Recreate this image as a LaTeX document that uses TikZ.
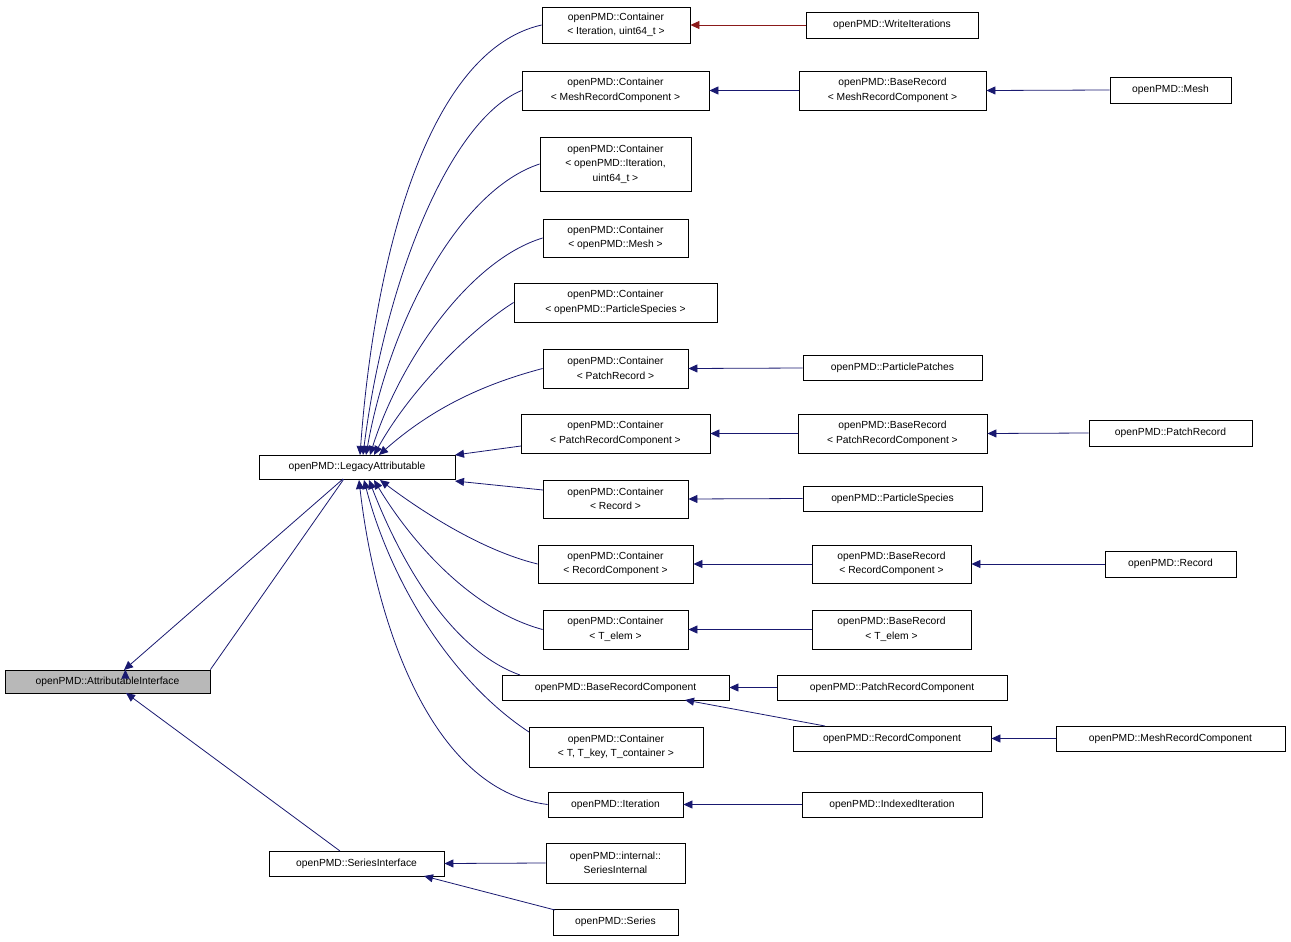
\documentclass[tikz,border=0pt]{standalone}
\usepackage{fontspec}
\setmainfont{Liberation Sans}
\usetikzlibrary{arrows.meta}
\begin{document}
\begin{tikzpicture}[x=1pt,y=-1pt,
  nd/.style={draw=black,fill=white,line width=0.8pt,inner sep=0pt,align=center,font=\fontsize{10.3}{14.5}\selectfont},
  e/.style={draw={rgb,255:red,25;green,25;blue,112},line width=0.8pt,-{Triangle[length=9pt,width=8pt]}},
  er/.style={e,draw={rgb,255:red,139;green,26;blue,26}}]
\useasboundingbox (0,0) rectangle (1291,942);
\newcommand\bx[6]{\node[nd,minimum width=#4,minimum height=#5] (#1) at (#2,#3) {#6};}
\node[nd,fill=black!28,minimum width=205,minimum height=23] (AI) at (107.5,681.5) {openPMD::AttributableInterface};
\bx{LA}{357}{467}{196}{24}{openPMD::LegacyAttributable}
\bx{SI}{356.5}{863.5}{175}{25}{openPMD::SeriesInterface}
\bx{CIt}{616}{25}{148}{36}{openPMD::Container\\\textless{} Iteration, uint64\_t \textgreater}
\bx{WI}{892}{25}{172}{26}{openPMD::WriteIterations}
\bx{CMRC}{615.5}{90.5}{187}{39}{openPMD::Container\\\textless{} MeshRecordComponent \textgreater}
\bx{BMRC}{892.5}{90.5}{187}{39}{openPMD::BaseRecord\\\textless{} MeshRecordComponent \textgreater}
\bx{Mesh}{1170.5}{90}{121}{26}{openPMD::Mesh}
\bx{COI}{615.5}{164}{151}{54}{openPMD::Container\\\textless{} openPMD::Iteration,\\uint64\_t \textgreater}
\bx{CM}{615.5}{238}{145}{38}{openPMD::Container\\\textless{} openPMD::Mesh \textgreater}
\bx{CPS}{615.5}{302.5}{203}{39}{openPMD::Container\\\textless{} openPMD::ParticleSpecies \textgreater}
\bx{CPR}{615.5}{368.5}{145}{39}{openPMD::Container\\\textless{} PatchRecord \textgreater}
\bx{PP}{892.5}{368}{179}{25}{openPMD::ParticlePatches}
\bx{CPRC}{615.5}{433.5}{189}{39}{openPMD::Container\\\textless{} PatchRecordComponent \textgreater}
\bx{BPRC}{892.5}{433.5}{189}{39}{openPMD::BaseRecord\\\textless{} PatchRecordComponent \textgreater}
\bx{PR}{1170.5}{433}{163}{26}{openPMD::PatchRecord}
\bx{CR}{615.5}{499}{145}{38}{openPMD::Container\\\textless{} Record \textgreater}
\bx{PSp}{892.5}{498.5}{179}{25}{openPMD::ParticleSpecies}
\bx{CRC}{615.5}{564}{155}{38}{openPMD::Container\\\textless{} RecordComponent \textgreater}
\bx{BRC}{891.5}{564}{159}{38}{openPMD::BaseRecord\\\textless{} RecordComponent \textgreater}
\bx{Rec}{1170.5}{564}{131}{26}{openPMD::Record}
\bx{CTe}{615.5}{629.5}{145}{39}{openPMD::Container\\\textless{} T\_elem \textgreater}
\bx{BTe}{891.5}{629.5}{159}{39}{openPMD::BaseRecord\\\textless{} T\_elem \textgreater}
\bx{BRCo}{615.5}{687.5}{227}{25}{openPMD::BaseRecordComponent}
\bx{PRC}{892}{687.5}{230}{25}{openPMD::PatchRecordComponent}
\bx{RC}{892}{738.5}{198}{25}{openPMD::RecordComponent}
\bx{MRC}{1170.5}{738.5}{229}{25}{openPMD::MeshRecordComponent}
\bx{CT}{616}{747}{174}{40}{openPMD::Container\\\textless{} T, T\_key, T\_container \textgreater}
\bx{It}{615.5}{804.5}{135}{25}{openPMD::Iteration}
\bx{II}{892}{804.5}{180}{25}{openPMD::IndexedIteration}
\bx{SIn}{615.5}{863}{139}{40}{openPMD::internal::\\SeriesInternal}
\bx{Ser}{615.5}{922}{125}{26}{openPMD::Series}
% edges
\draw[e] (LA.south west)++(85,0) coordinate(la1) (la1) -- (AI.north east)++(-85,0);
\draw[e] (343,479) -- (124,670);
\draw[e] (340,851) -- (126,693);
\draw[er] (WI.west) -- (CIt.east);
\draw[e] (BMRC.west) -- (CMRC.east);
\draw[e] (Mesh.west) -- (BMRC.east);
\draw[e] (PP.west) -- (CPR.east);
\draw[e] (BPRC.west) -- (CPRC.east);
\draw[e] (PR.west) -- (BPRC.east);
\draw[e] (PSp.west) -- (CR.east);
\draw[e] (BRC.west) -- (CRC.east);
\draw[e] (Rec.west) -- (BRC.east);
\draw[e] (BTe.west) -- (CTe.east);
\draw[e] (PRC.west) -- (BRCo.east);
\draw[e] (825,726) -- (685,700);
\draw[e] (MRC.west) -- (RC.east);
\draw[e] (II.west) -- (It.east);
\draw[e] (SIn.west) -- (SI.east);
\draw[e] (555,910) -- (424,876);
% curves to LA top
\draw[e] (CIt.west) .. controls (430,50) and (375,250) .. (360,455);
\draw[e] (CMRC.west) .. controls (450,120) and (385,280) .. (363,455);
\draw[e] (COI.west) .. controls (460,190) and (390,320) .. (366,455);
\draw[e] (CM.west) .. controls (470,260) and (400,360) .. (370,455);
\draw[e] (CPS.west) .. controls (470,330) and (410,390) .. (374,455);
\draw[e] (CPR.west) .. controls (480,385) and (430,410) .. (379,455);
\draw[e] (521,446) -- (455,455);
\draw[e] (543,490) -- (455,481);
% curves to LA bottom
\draw[e] (CRC.west) .. controls (480,550) and (420,510) .. (380,480);
\draw[e] (CTe.west) .. controls (470,610) and (410,540) .. (374,480);
\draw[e] (520,675) .. controls (450,650) and (400,560) .. (369,480);
\draw[e] (529,732) .. controls (450,680) and (390,580) .. (364,480);
\draw[e] (It.west) .. controls (430,790) and (375,620) .. (359,480);
\end{tikzpicture}
\end{document}
